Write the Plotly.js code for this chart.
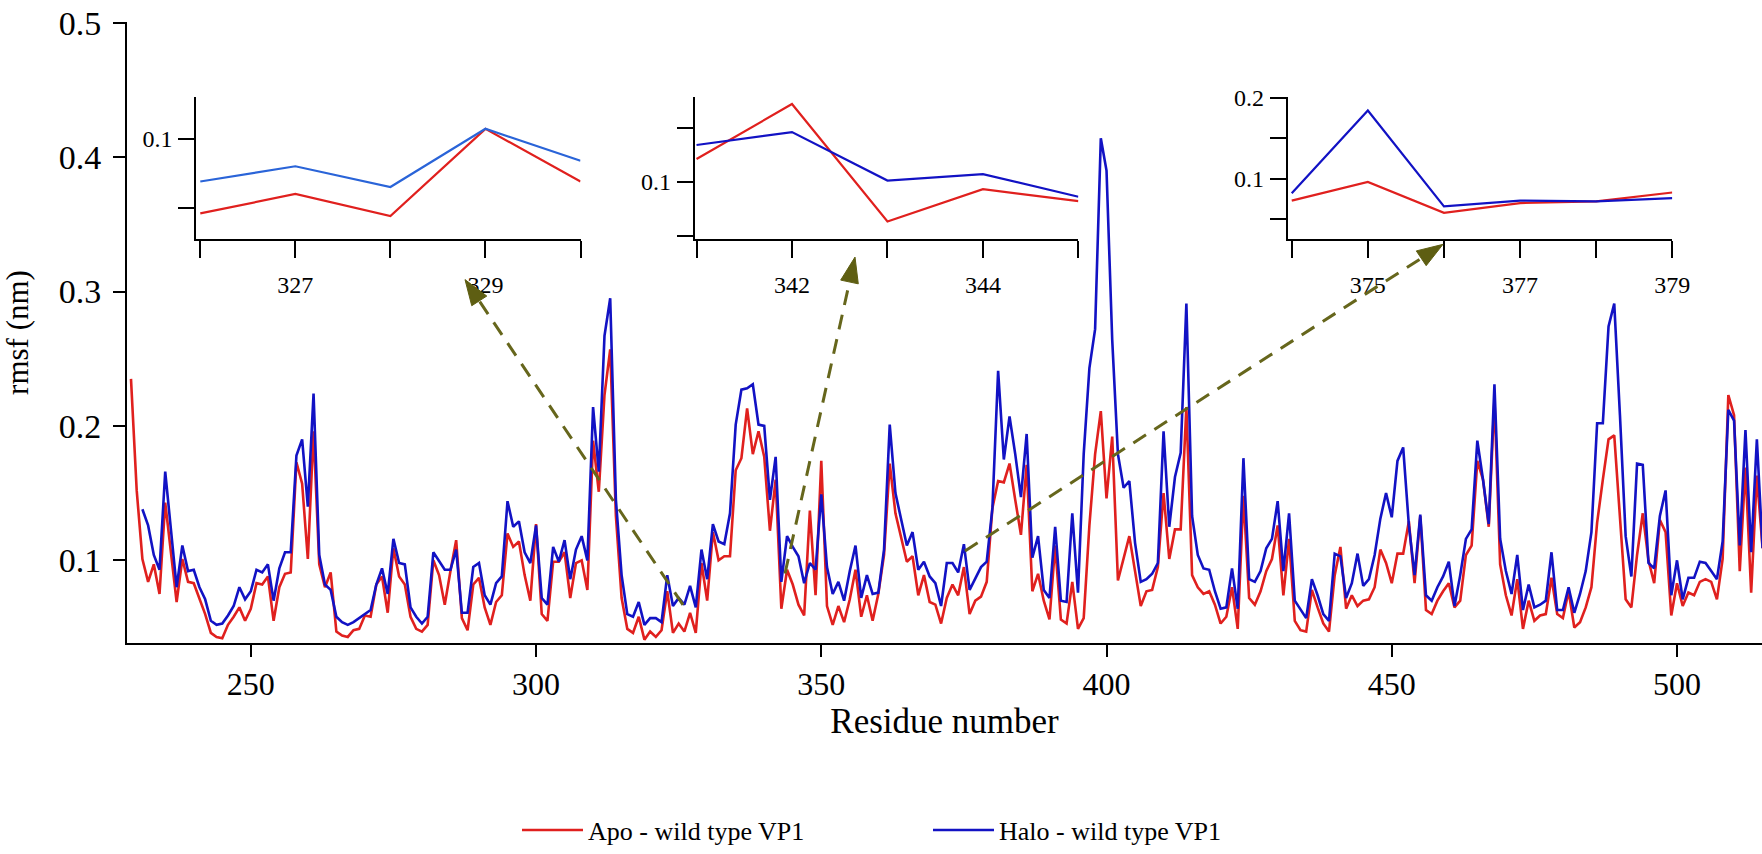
<!DOCTYPE html>
<html><head><meta charset="utf-8">
<script src="https://cdn.plot.ly/plotly-3.0.1.min.js"></script>
<style>html,body{margin:0;padding:0;background:#fff}#chart{width:1762px;height:854px}</style>
</head><body><div id="chart"></div>
<script>
// ---------------- data ----------------
const residues = [
229,230,231,232,233,234,235,236,237,238,239,240,241,242,243,244,245,246,247,248,
249,250,251,252,253,254,255,256,257,258,259,260,261,262,263,264,265,266,267,268,
269,270,271,272,273,274,275,276,277,278,279,280,281,282,283,284,285,286,287,288,
289,290,291,292,293,294,295,296,297,298,299,300,301,302,303,304,305,306,307,308,
309,310,311,312,313,314,315,316,317,318,319,320,321,322,323,324,325,326,327,328,
329,330,331,332,333,334,335,336,337,338,339,340,341,342,343,344,345,346,347,348,
349,350,351,352,353,354,355,356,357,358,359,360,361,362,363,364,365,366,367,368,
369,370,371,372,373,374,375,376,377,378,379,380,381,382,383,384,385,386,387,388,
389,390,391,392,393,394,395,396,397,398,399,400,401,402,403,404,405,406,407,408,
409,410,411,412,413,414,415,416,417,418,419,420,421,422,423,424,425,426,427,428,
429,430,431,432,433,434,435,436,437,438,439,440,441,442,443,444,445,446,447,448,
449,450,451,452,453,454,455,456,457,458,459,460,461,462,463,464,465,466,467,468,
469,470,471,472,473,474,475,476,477,478,479,480,481,482,483,484,485,486,487,488,
489,490,491,492,493,494,495,496,497,498,499,500,501,502,503,504,505,506,507,508,
509,510,511,512,513,514,515];

const apoRmsf = [
0.235,0.152,0.101,0.084,0.097,0.075,0.143,0.104,0.069,0.101,
0.084,0.083,0.072,0.060,0.046,0.043,0.042,0.052,0.058,0.065,
0.055,0.064,0.083,0.082,0.088,0.055,0.080,0.090,0.091,0.173,
0.157,0.101,0.196,0.097,0.080,0.091,0.047,0.044,0.043,0.048,
0.049,0.059,0.058,0.082,0.088,0.061,0.109,0.088,0.082,0.058,
0.049,0.047,0.052,0.100,0.089,0.067,0.092,0.115,0.057,0.048,
0.082,0.087,0.065,0.052,0.069,0.074,0.120,0.110,0.114,0.089,
0.070,0.127,0.060,0.055,0.099,0.099,0.106,0.072,0.098,0.100,
0.078,0.189,0.151,0.223,0.257,0.133,0.072,0.049,0.046,0.058,
0.041,0.047,0.043,0.048,0.077,0.046,0.053,0.047,0.061,0.046,
0.098,0.070,0.121,0.100,0.103,0.103,0.167,0.176,0.213,0.179,
0.196,0.177,0.122,0.160,0.064,0.093,0.082,0.067,0.059,0.137,
0.074,0.174,0.066,0.052,0.066,0.054,0.071,0.093,0.058,0.074,
0.055,0.075,0.104,0.172,0.135,0.117,0.099,0.103,0.074,0.089,
0.069,0.067,0.053,0.072,0.082,0.074,0.095,0.060,0.070,0.073,
0.084,0.139,0.159,0.158,0.172,0.145,0.119,0.171,0.077,0.090,
0.070,0.056,0.111,0.056,0.053,0.084,0.049,0.057,0.126,0.179,
0.211,0.146,0.192,0.085,0.102,0.118,0.092,0.066,0.077,0.078,
0.095,0.150,0.101,0.123,0.123,0.214,0.089,0.080,0.075,0.077,
0.067,0.053,0.058,0.080,0.049,0.148,0.072,0.067,0.077,0.092,
0.101,0.126,0.074,0.116,0.055,0.048,0.047,0.078,0.065,0.053,
0.047,0.089,0.110,0.064,0.074,0.066,0.070,0.071,0.080,0.108,
0.098,0.083,0.105,0.105,0.129,0.083,0.133,0.063,0.060,0.070,
0.077,0.083,0.065,0.070,0.104,0.111,0.174,0.160,0.125,0.220,
0.097,0.074,0.059,0.086,0.049,0.070,0.055,0.059,0.060,0.087,
0.060,0.057,0.077,0.050,0.054,0.065,0.080,0.128,0.160,0.190,
0.193,0.135,0.071,0.065,0.104,0.135,0.100,0.083,0.130,0.121,
0.059,0.083,0.066,0.076,0.074,0.084,0.086,0.084,0.071,0.101,
0.223,0.208,0.092,0.169,0.076,0.163,0.109];

const haloRmsf = [
null,null,0.138,0.126,0.104,0.093,0.166,0.123,0.080,0.111,
0.092,0.093,0.080,0.071,0.055,0.052,0.053,0.059,0.066,0.080,
0.071,0.077,0.093,0.091,0.097,0.070,0.094,0.106,0.106,0.178,
0.190,0.140,0.224,0.104,0.082,0.078,0.058,0.054,0.052,0.054,
0.057,0.060,0.063,0.082,0.094,0.075,0.116,0.098,0.097,0.065,
0.058,0.053,0.058,0.106,0.099,0.093,0.093,0.108,0.061,0.061,
0.095,0.098,0.074,0.067,0.083,0.088,0.144,0.125,0.129,0.106,
0.098,0.126,0.072,0.067,0.110,0.099,0.115,0.086,0.108,0.118,
0.100,0.214,0.166,0.267,0.295,0.145,0.089,0.060,0.058,0.069,
0.052,0.057,0.057,0.054,0.089,0.066,0.072,0.067,0.081,0.065,
0.108,0.086,0.127,0.114,0.112,0.135,0.201,0.227,0.228,0.231,
0.201,0.200,0.145,0.177,0.084,0.118,0.110,0.103,0.083,0.098,
0.093,0.149,0.095,0.075,0.084,0.070,0.092,0.111,0.072,0.089,
0.075,0.076,0.108,0.201,0.150,0.131,0.111,0.121,0.093,0.099,
0.088,0.083,0.066,0.098,0.098,0.091,0.112,0.078,0.086,0.095,
0.099,0.139,0.241,0.175,0.207,0.179,0.147,0.194,0.102,0.118,
0.078,0.072,0.125,0.070,0.069,0.135,0.076,0.179,0.243,0.272,
0.414,0.390,0.264,0.179,0.154,0.159,0.113,0.084,0.086,0.090,
0.098,0.196,0.125,0.162,0.180,0.291,0.133,0.104,0.094,0.093,
0.077,0.064,0.065,0.094,0.064,0.176,0.086,0.084,0.092,0.109,
0.116,0.144,0.092,0.135,0.070,0.063,0.057,0.086,0.074,0.060,
0.055,0.105,0.103,0.072,0.083,0.105,0.081,0.086,0.104,0.131,
0.150,0.132,0.174,0.184,0.126,0.089,0.134,0.074,0.070,0.080,
0.088,0.099,0.066,0.089,0.116,0.123,0.189,0.160,0.127,0.231,
0.116,0.092,0.075,0.104,0.063,0.082,0.065,0.067,0.070,0.106,
0.063,0.063,0.080,0.061,0.075,0.092,0.121,0.202,0.202,0.274,
0.291,0.208,0.118,0.088,0.172,0.171,0.098,0.094,0.133,0.152,
0.074,0.100,0.071,0.087,0.087,0.099,0.098,0.092,0.086,0.114,
0.212,0.204,0.111,0.197,0.106,0.190,0.109];

// insets (zoomed views)
const inset1Residues = [326,327,328,329,330];
const inset1Apo  = [0.046,0.060,0.044,0.107,0.069];
const inset1Halo = [0.069,0.080,0.065,0.107,0.084];

const inset2Residues = [341,342,343,344,345];
const inset2Apo  = [0.121,0.172,0.063,0.093,0.082];
const inset2Halo = [0.134,0.146,0.101,0.107,0.086];

const inset3Residues = [374,375,376,377,378,379];
const inset3Apo  = [0.073,0.096,0.058,0.070,0.072,0.083];
const inset3Halo = [0.082,0.184,0.066,0.073,0.072,0.076];

// tick values / labels
const mainXTicks = [250,300,350,400,450,500];
const mainYTicks = [0.1,0.2,0.3,0.4,0.5];
const mainYLabels = ['0.1','0.2','0.3','0.4','0.5'];
const inset1XTicks = [326,327,328,329,330];
const inset1XLabels = ['','327','','329',''];
const inset1YTicks = [0.05,0.1];
const inset1YLabels = ['','0.1'];
const inset2XTicks = [341,342,343,344,345];
const inset2XLabels = ['','342','','344',''];
const inset2YTicks = [0.05,0.1,0.15];
const inset2YLabels = ['','0.1',''];
const inset3XTicks = [374,375,376,377,378,379];
const inset3XLabels = ['','375','','377','','379'];
const inset3YTicks = [0.05,0.1,0.15,0.2];
const inset3YLabels = ['','0.1','','0.2'];

const seriesNames = ['Apo - wild type VP1','Halo - wild type VP1'];

// ---------------- layout helpers ----------------
const FIG_W = 1762, FIG_H = 854;
const M = {l:127, r:0, t:22, b:198};
const PW = FIG_W - M.l - M.r, PH = FIG_H - M.t - M.b;
function toPaper(px, py){ return [(px - M.l)/PW, (FIG_H - M.b - py)/PH]; }
function domainFromBox(x0, x1, y0, y1){ // pixel box: left,right,top,bottom
  const a = toPaper(x0, y1), b = toPaper(x1, y0);
  return {x:[a[0], b[0]], y:[a[1], b[1]]};
}
const in1 = domainFromBox(196.3, 580.5, 98.5, 243.3);
const in2 = domainFromBox(694.8, 1078.4, 98.5, 243.3);
const in3 = domainFromBox(1287.7, 1672.3, 98.5, 243.3);

const RED = '#e0201e', BLUE = '#1212c4', BLUE_LIGHT = '#2a64d8', OLIVE = '#66661c';
const FONT = '"Liberation Serif", "Times New Roman", Times, serif';
const XTICK_FS = 32, YTICK_FS = 34, XTITLE_FS = 35, YTITLE_FS = 31, INSET_FS = 24, LEGEND_FS = 26;

// arrows (pixel positions of tail and tip)
const arrowDefs = [
  {tail:[683,617], tip:[465,285]},
  {tail:[785,585], tip:[855,262]},
  {tail:[965,562], tip:[1443,249]}
];
const shapes = [];
arrowDefs.forEach(a => {
  const dx = a.tip[0]-a.tail[0], dy = a.tip[1]-a.tail[1];
  const len = Math.hypot(dx, dy), ux = dx/len, uy = dy/len;
  const HL = 26, HW = 9;
  const bx = a.tip[0]-ux*HL, by = a.tip[1]-uy*HL;
  const c1 = [bx - uy*HW, by + ux*HW], c2 = [bx + uy*HW, by - ux*HW];
  const p0 = toPaper(a.tail[0], a.tail[1]), p1 = toPaper(bx, by);
  shapes.push({type:'line', xref:'paper', yref:'paper', x0:p0[0], y0:p0[1], x1:p1[0], y1:p1[1],
    line:{color:OLIVE, width:3, dash:'15px,10px'}, layer:'above'});
  const t = toPaper(a.tip[0], a.tip[1]), q1 = toPaper(c1[0], c1[1]), q2 = toPaper(c2[0], c2[1]);
  shapes.push({type:'path', xref:'paper', yref:'paper',
    path:`M ${t[0]},${t[1]} L ${q1[0]},${q1[1]} L ${q2[0]},${q2[1]} Z`,
    fillcolor:'#5e5e12', line:{color:'#5e5e12', width:1}, layer:'above'});
});

// ---------------- traces ----------------
const traces = [
  {x:residues, y:apoRmsf, type:'scatter', mode:'lines', name:seriesNames[0],
   line:{color:RED, width:2.6}, xaxis:'x', yaxis:'y', legend:'legend', connectgaps:false},
  {x:residues, y:haloRmsf, type:'scatter', mode:'lines', name:seriesNames[1],
   line:{color:BLUE, width:2.6}, xaxis:'x', yaxis:'y', legend:'legend2', connectgaps:false},
  {x:inset1Residues, y:inset1Apo, type:'scatter', mode:'lines', line:{color:RED, width:2.2}, xaxis:'x2', yaxis:'y2', showlegend:false},
  {x:inset1Residues, y:inset1Halo, type:'scatter', mode:'lines', line:{color:BLUE_LIGHT, width:2.2}, xaxis:'x2', yaxis:'y2', showlegend:false},
  {x:inset2Residues, y:inset2Apo, type:'scatter', mode:'lines', line:{color:RED, width:2.2}, xaxis:'x3', yaxis:'y3', showlegend:false},
  {x:inset2Residues, y:inset2Halo, type:'scatter', mode:'lines', line:{color:BLUE, width:2.2}, xaxis:'x3', yaxis:'y3', showlegend:false},
  {x:inset3Residues, y:inset3Apo, type:'scatter', mode:'lines', line:{color:RED, width:2.2}, xaxis:'x4', yaxis:'y4', showlegend:false},
  {x:inset3Residues, y:inset3Halo, type:'scatter', mode:'lines', line:{color:BLUE, width:2.2}, xaxis:'x4', yaxis:'y4', showlegend:false}
];

const axBase = {showline:true, linecolor:'#000', linewidth:2, ticks:'outside', tickcolor:'#000',
  tickwidth:2, showgrid:false, zeroline:false, fixedrange:true};
function insetX(domain, range, tv, tt, anchor){
  return Object.assign({}, axBase, {domain, range, anchor, tickmode:'array', tickvals:tv, ticktext:tt,
    ticklen:17, ticklabelstandoff:6, tickfont:{size:INSET_FS, family:FONT}});
}
function insetY(domain, range, tv, tt, anchor){
  return Object.assign({}, axBase, {domain, range, anchor, tickmode:'array', tickvals:tv, ticktext:tt,
    ticklen:16, ticklabelstandoff:1, tickfont:{size:INSET_FS, family:FONT}});
}

const legendY = toPaper(0, 847)[1];
const layout = {
  width:FIG_W, height:FIG_H, margin:M,
  paper_bgcolor:'#ffffff', plot_bgcolor:'rgba(0,0,0,0)',
  font:{family:FONT, color:'#000', size:XTICK_FS},
  xaxis:Object.assign({}, axBase, {range:[228.3, 514.9], tickmode:'array', tickvals:mainXTicks,
    ticklen:12, tickfont:{size:XTICK_FS}, title:{text:'Residue number', font:{size:XTITLE_FS}, standoff:0}}),
  yaxis:Object.assign({}, axBase, {range:[0.0385, 0.5005], tickmode:'array', tickvals:mainYTicks, ticktext:mainYLabels,
    ticklen:12, ticklabelstandoff:5, tickfont:{size:YTICK_FS}, title:{text:'rmsf (nm)', font:{size:YTITLE_FS}, standoff:22}}),
  xaxis2:insetX(in1.x, [325.958, 330.0], inset1XTicks, inset1XLabels, 'y2'),
  yaxis2:insetY(in1.y, [0.0277, 0.130], inset1YTicks, inset1YLabels, 'x2'),
  xaxis3:insetX(in2.x, [340.982, 345.0], inset2XTicks, inset2XLabels, 'y3'),
  yaxis3:insetY(in2.y, [0.047, 0.1786], inset2YTicks, inset2YLabels, 'x3'),
  xaxis4:insetX(in3.x, [373.947, 379.0], inset3XTicks, inset3XLabels, 'y4'),
  yaxis4:insetY(in3.y, [0.026, 0.2008], inset3YTicks, inset3YLabels, 'x4'),
  showlegend:true,
  legend:{x:toPaper(517,0)[0], y:legendY, xanchor:'left', yanchor:'middle',
    font:{size:LEGEND_FS, family:FONT}, itemwidth:61, bgcolor:'rgba(0,0,0,0)'},
  legend2:{x:toPaper(928,0)[0], y:legendY, xanchor:'left', yanchor:'middle',
    font:{size:LEGEND_FS, family:FONT}, itemwidth:61, bgcolor:'rgba(0,0,0,0)'},
  shapes
};

Plotly.newPlot('chart', traces, layout, {displayModeBar:false, staticPlot:true});
</script>
</body></html>
